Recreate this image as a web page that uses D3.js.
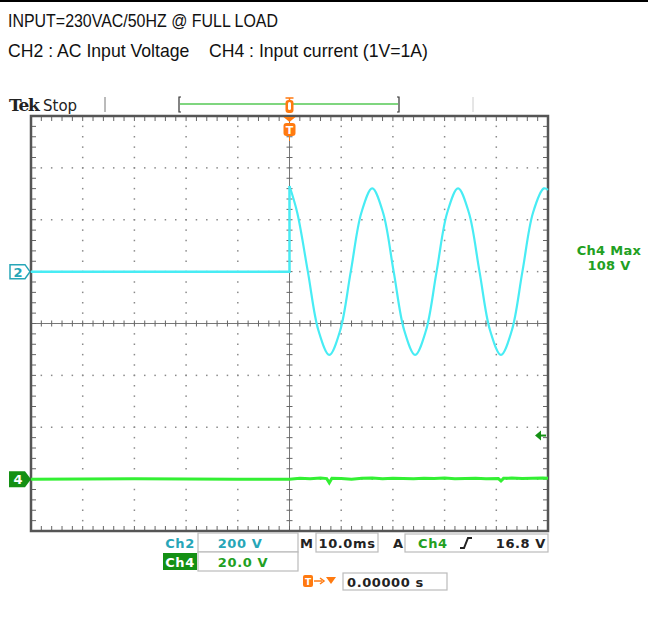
<!DOCTYPE html>
<html><head><meta charset="utf-8">
<script src="https://cdn.jsdelivr.net/npm/d3@7"></script>
<style>body{margin:0;background:#fff}svg{display:block}</style>
</head><body><svg id="c" width="648" height="644"></svg>
<script>
// ---------- data ----------
const title1 = "INPUT=230VAC/50HZ @ FULL LOAD";
const title2 = "CH2 : AC Input Voltage    CH4 : Input current (1V=1A)";
const timeRange = [-50, 50];          // ms (10 div x 10 ms)
const divRange = [-4, 4];             // vertical divisions
const ch2VoltsPerDiv = 200;
const ch4VoltsPerDiv = 20;
const ch2OffsetDiv = 1;
const ch4OffsetDiv = -3;
const triggerLevel = 16.8;            // V on Ch4
// Ch2 (AC input voltage)
const ch2PreTime = [-50, 0, 0];
const ch2PreVolt = [0, 0, 330];
const ch2Time = [0, 1.5, 3.55, 5.6, 7.7, 9.8, 11.85, 13.9, 16.0, 18.1, 20.15, 22.2, 24.3, 26.4, 28.45, 30.5, 32.6, 34.7, 36.75, 38.8, 40.9, 43.0, 45.05, 47.1, 49.2, 50];
const ch2Volt = [330, 227, 0, -227, -321, -227, 0, 227, 321, 227, 0, -227, -321, -227, 0, 227, 321, 227, 0, -227, -321, -227, 0, 227, 321, 315];
// Ch4 (input current)
const ch4Time = [-50, -30, -10, 0, 2, 4, 6, 7.2, 7.7, 8.2, 10, 12, 14, 16, 18, 20, 22, 24, 26, 28, 30, 32, 34, 36, 38, 40.4, 40.9, 41.4, 43, 45, 47, 49, 50];
const ch4Volt = [0, 0.1, 0, 0, 0.3, 0.1, 0.4, 0.2, -1.4, 0.3, 0.2, 0.0, 0.3, 0.4, 0.1, 0.3, 0.2, 0.1, 0.3, 0.2, 0.4, 0.1, 0.2, 0.3, 0.1, 0.2, -0.7, 0.3, 0.4, 0.2, 0.3, 0.4, 0.3];
const ch4MaxLabel = ["Ch4 Max", "108 V"];
const readRow1 = {ch: "Ch2", scale: "200 V", timebase: "10.0ms", trigSrc: "Ch4", trigLevel: "16.8 V"};
const readRow2 = {ch: "Ch4", scale: "20.0 V"};
const trigPos = "0.00000 s";

// ---------- layout ----------
const L = 31, R = 548, T = 116, B = 531;
const ch2Color = "#48ecf4", ch2Text = "#27a6b8";
const ch4Color = "#33f033", ch4Text = "#22a022", ch4Dark = "#149014";
const orange = "#ff7a10";
const svg = d3.select("#c");
const x = d3.scaleLinear().domain(timeRange).range([L, R]);
const y = d3.scaleLinear().domain(divRange).range([B, T]);

// header
svg.append("rect").attr("x", 0).attr("y", 0).attr("width", 648).attr("height", 2).attr("fill", "#000");
const hf = "'Liberation Sans',Arial,sans-serif";
svg.append("text").attr("x", 8).attr("y", 27).attr("font-family", hf).attr("font-size", 19).attr("fill", "#111")
  .attr("textLength", 270).attr("lengthAdjust", "spacingAndGlyphs").text(title1);
svg.append("text").attr("x", 8).attr("y", 57).attr("font-family", hf).attr("font-size", 19).attr("fill", "#111")
  .attr("textLength", 420).attr("lengthAdjust", "spacingAndGlyphs").style("white-space", "pre").text(title2);

// top status bar
const sf = "'DejaVu Sans',sans-serif";
svg.append("text").attr("x", 9).attr("y", 111).attr("font-family", "'DejaVu Serif',serif").attr("font-weight", "bold").attr("font-size", 17).attr("letter-spacing", -1.2).attr("fill", "#222").text("Tek");
svg.append("text").attr("x", 43).attr("y", 111).attr("font-family", sf).attr("font-size", 15).attr("fill", "#222").text("Stop");
svg.append("line").attr("x1", 105).attr("x2", 105).attr("y1", 97).attr("y2", 112).attr("stroke", "#777").attr("stroke-width", 1);
svg.append("line").attr("x1", 473).attr("x2", 473).attr("y1", 97).attr("y2", 112).attr("stroke", "#ccc").attr("stroke-width", 1);
svg.append("line").attr("x1", 180).attr("x2", 398).attr("y1", 104).attr("y2", 104).attr("stroke", "#7fd67f").attr("stroke-width", 2);
svg.append("path").attr("d", "M181,97 L179,97 L179,112 L181,112").attr("fill", "none").attr("stroke", "#333").attr("stroke-width", 1.2);
svg.append("path").attr("d", "M397,97 L399,97 L399,112 L397,112").attr("fill", "none").attr("stroke", "#333").attr("stroke-width", 1.2);
// trigger position marker on the bar
const tx = x(0);
svg.append("rect").attr("x", tx - 4).attr("y", 100).attr("width", 8).attr("height", 13).attr("rx", 3).attr("fill", orange);
svg.append("line").attr("x1", tx - 4).attr("x2", tx + 4).attr("y1", 98).attr("y2", 98).attr("stroke", orange).attr("stroke-width", 1.5);
svg.append("line").attr("x1", tx).attr("x2", tx).attr("y1", 98).attr("y2", 101).attr("stroke", orange).attr("stroke-width", 1.5);
svg.append("rect").attr("x", tx - 1.5).attr("y", 102).attr("width", 3).attr("height", 8).attr("rx", 1.5).attr("fill", "#fff");

// grid dots
const g = svg.append("g");
const minorX = d3.range(timeRange[0], timeRange[1] + 0.001, 2);
const minorY = d3.range(divRange[0], divRange[1] + 0.001, 0.2);
const majorX = d3.range(-40, 41, 10).filter(v => v !== 0);
const majorY = d3.range(-3, 4, 1).filter(v => v !== 0);
const dots = [];
majorX.forEach(mx => minorY.forEach(my => dots.push([x(mx), y(my)])));
majorY.forEach(my => minorX.forEach(mx => dots.push([x(mx), y(my)])));
g.selectAll("rect.dot").data(dots).join("rect").attr("class", "dot")
  .attr("x", d => d[0] - 0.75).attr("y", d => d[1] - 0.75).attr("width", 1.5).attr("height", 1.5).attr("fill", "#8a8a8a");

// center cross with ticks
g.append("line").attr("x1", x(0)).attr("x2", x(0)).attr("y1", T).attr("y2", B).attr("stroke", "#777").attr("stroke-width", 1);
g.append("line").attr("x1", L).attr("x2", R).attr("y1", y(0)).attr("y2", y(0)).attr("stroke", "#777").attr("stroke-width", 1);
g.selectAll("line.cty").data(minorY).join("line").attr("class", "cty")
  .attr("x1", x(0) - 3).attr("x2", x(0) + 3).attr("y1", d => y(d)).attr("y2", d => y(d)).attr("stroke", "#666");
g.selectAll("line.ctx").data(minorX).join("line").attr("class", "ctx")
  .attr("x1", d => x(d)).attr("x2", d => x(d)).attr("y1", y(0) - 3).attr("y2", y(0) + 3).attr("stroke", "#666");

// border ticks
g.selectAll("line.btt").data(minorX).join("line").attr("class", "btt")
  .attr("x1", d => x(d)).attr("x2", d => x(d)).attr("y1", T).attr("y2", T + 5).attr("stroke", "#666");
g.selectAll("line.btb").data(minorX).join("line").attr("class", "btb")
  .attr("x1", d => x(d)).attr("x2", d => x(d)).attr("y1", B - 5).attr("y2", B).attr("stroke", "#666");
g.selectAll("line.btl").data(minorY).join("line").attr("class", "btl")
  .attr("x1", L).attr("x2", L + 5).attr("y1", d => y(d)).attr("y2", d => y(d)).attr("stroke", "#666");
g.selectAll("line.btr").data(minorY).join("line").attr("class", "btr")
  .attr("x1", R - 5).attr("x2", R).attr("y1", d => y(d)).attr("y2", d => y(d)).attr("stroke", "#666");
g.append("rect").attr("x", L).attr("y", T).attr("width", R - L).attr("height", B - T)
  .attr("fill", "none").attr("stroke", "#555").attr("stroke-width", 2.5);

// traces
const ch2Y = v => y(ch2OffsetDiv + v / ch2VoltsPerDiv);
const ch4Y = v => y(ch4OffsetDiv + v / ch4VoltsPerDiv);
const ch2Pre = ch2PreTime.map((t, i) => [t, ch2PreVolt[i]]);
const ch2Post = ch2Time.map((t, i) => [t, ch2Volt[i]]);
const ch4 = ch4Time.map((t, i) => [t, ch4Volt[i]]);
svg.append("path").datum(ch4).attr("d", d3.line().x(d => x(d[0])).y(d => ch4Y(d[1])))
  .attr("fill", "none").attr("stroke", ch4Color).attr("stroke-width", 3);
svg.append("path").datum(ch2Pre).attr("d", d3.line().x(d => x(d[0])).y(d => ch2Y(d[1])))
  .attr("fill", "none").attr("stroke", ch2Color).attr("stroke-width", 2.5);
svg.append("path").datum(ch2Post).attr("d", d3.line().curve(d3.curveCatmullRom).x(d => x(d[0])).y(d => ch2Y(d[1])))
  .attr("fill", "none").attr("stroke", ch2Color).attr("stroke-width", 2.2);

// trigger marker under top border
svg.append("path").attr("d", `M${tx - 6},${T + 1} L${tx + 6},${T + 1} L${tx},${T + 6} Z`).attr("fill", orange);
svg.append("line").attr("x1", tx).attr("x2", tx).attr("y1", T + 18).attr("y2", T + 25).attr("stroke", orange).attr("stroke-width", 1);
svg.append("rect").attr("x", tx - 6).attr("y", T + 7).attr("width", 12).attr("height", 13).attr("rx", 3).attr("fill", orange);
svg.append("text").attr("x", tx).attr("y", T + 18).attr("text-anchor", "middle").attr("font-family", sf).attr("font-weight", "bold").attr("font-size", 11).attr("fill", "#fff").text("T");

// channel ground markers
const m2 = ch2Y(0), m4 = ch4Y(0);
svg.append("path").attr("d", `M10,${m2 - 7} L25,${m2 - 7} L30,${m2} L25,${m2 + 7} L10,${m2 + 7} Z`)
  .attr("fill", "#fff").attr("stroke", ch2Text).attr("stroke-width", 1.5);
svg.append("text").attr("x", 18).attr("y", m2 + 5).attr("text-anchor", "middle").attr("font-family", sf).attr("font-weight", "bold").attr("font-size", 13).attr("fill", ch2Text).text("2");
svg.append("path").attr("d", `M9,${m4 - 8} L25,${m4 - 8} L31,${m4} L25,${m4 + 8} L9,${m4 + 8} Z`).attr("fill", ch4Dark);
svg.append("text").attr("x", 18).attr("y", m4 + 5).attr("text-anchor", "middle").attr("font-family", sf).attr("font-weight", "bold").attr("font-size", 13).attr("fill", "#fff").text("4");

// trigger level arrow (right)
const ty = ch4Y(triggerLevel);
svg.append("path").attr("d", `M535,${ty} L541,${ty - 5} L541,${ty + 5} Z`).attr("fill", ch4Dark);
svg.append("line").attr("x1", 540).attr("x2", 546).attr("y1", ty).attr("y2", ty).attr("stroke", ch4Dark).attr("stroke-width", 2);

// Ch4 Max label
svg.append("text").attr("x", 609).attr("y", 255).attr("text-anchor", "middle").attr("font-family", sf).attr("font-weight", "bold").attr("font-size", 13).attr("letter-spacing", 0.3).attr("fill", ch4Text).text(ch4MaxLabel[0]);
svg.append("text").attr("x", 609).attr("y", 270).attr("text-anchor", "middle").attr("font-family", sf).attr("font-weight", "bold").attr("font-size", 13).attr("letter-spacing", 0.3).attr("fill", ch4Text).text(ch4MaxLabel[1]);

// readouts
const box = (x0, y0, w, h) => svg.append("rect").attr("x", x0).attr("y", y0).attr("width", w).attr("height", h).attr("fill", "#fff").attr("stroke", "#bbb").attr("stroke-width", 1.2);
const txt = (xx, yy, s, col, anchor) => svg.append("text").attr("x", xx).attr("y", yy).attr("text-anchor", anchor || "start").attr("font-family", sf).attr("font-weight", "bold").attr("font-size", 13).attr("letter-spacing", 0.6).attr("fill", col).text(s);
box(198, 533, 100, 19);
box(316, 533, 62, 19);
box(405, 534, 143, 18);
box(198, 552, 100, 19);
box(343, 573, 104, 17);
txt(180, 548, readRow1.ch, ch2Text, "middle");
txt(240, 548, readRow1.scale, ch2Text, "middle");
txt(300, 548, "M", "#222");
txt(347, 548, readRow1.timebase, "#222", "middle");
txt(393, 548, "A", "#222");
txt(418, 548, readRow1.trigSrc, ch4Text);
svg.append("path").attr("d", "M460,548 L464,548 L468,538 L472,538").attr("fill", "none").attr("stroke", "#222").attr("stroke-width", 2);
txt(546, 548, readRow1.trigLevel, "#222", "end");
svg.append("rect").attr("x", 163).attr("y", 553).attr("width", 34).attr("height", 17).attr("fill", ch4Dark);
txt(180, 567, readRow2.ch, "#fff", "middle");
txt(243, 567, readRow2.scale, ch4Text, "middle");
// trigger position readout
svg.append("rect").attr("x", 303).attr("y", 575).attr("width", 10).attr("height", 12).attr("rx", 2).attr("fill", orange);
svg.append("text").attr("x", 308).attr("y", 585).attr("text-anchor", "middle").attr("font-family", sf).attr("font-weight", "bold").attr("font-size", 9).attr("fill", "#fff").text("T");
svg.append("line").attr("x1", 314).attr("x2", 322).attr("y1", 581).attr("y2", 581).attr("stroke", orange).attr("stroke-width", 1.5);
svg.append("path").attr("d", "M320,578 L324,581 L320,584").attr("fill", "none").attr("stroke", orange).attr("stroke-width", 1.5);
svg.append("path").attr("d", "M326,577 L336,577 L331,584 Z").attr("fill", orange);
txt(347, 587, trigPos, "#222");
</script></body></html>
